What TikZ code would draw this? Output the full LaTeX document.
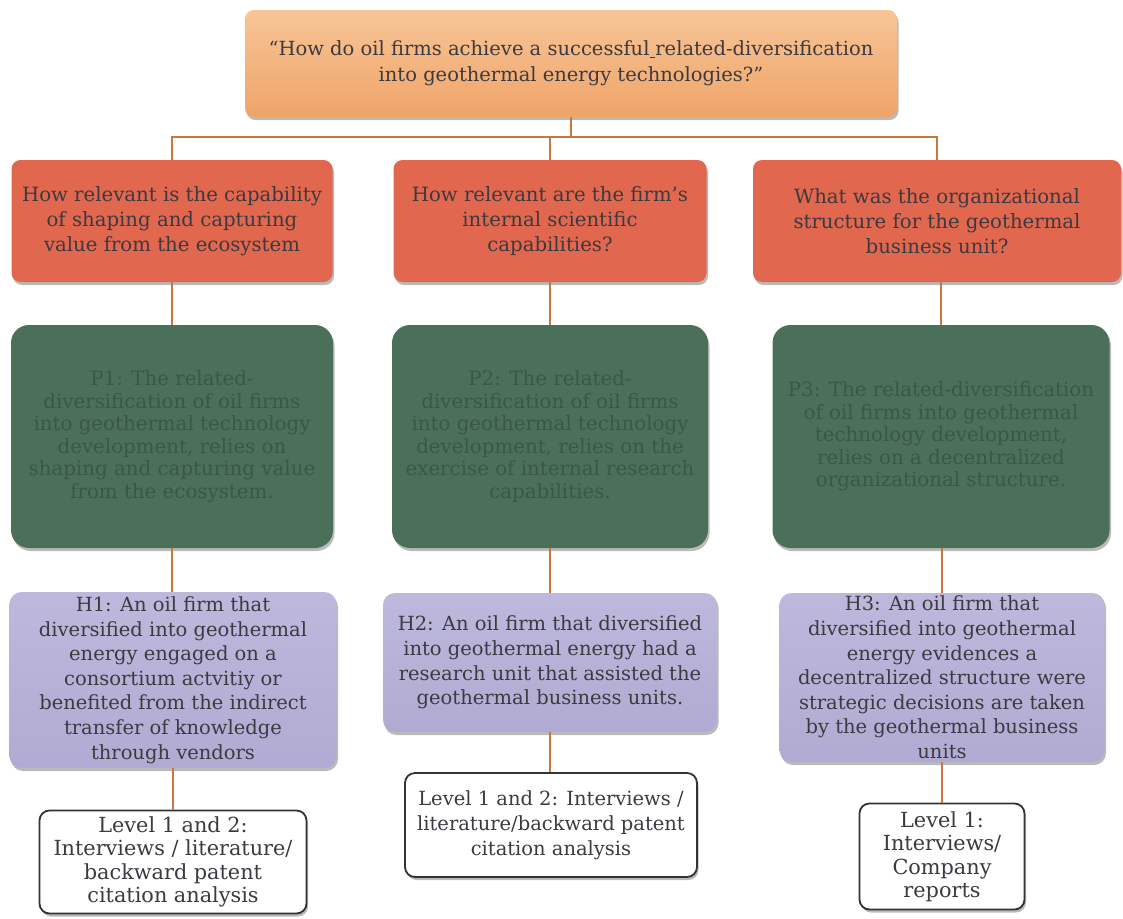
\documentclass[tikz,border=0pt]{standalone}
\usepackage{fontspec}
\setmainfont{DejaVu Serif}
\usetikzlibrary{shadows}

\definecolor{qtop}{HTML}{F8C597}
\definecolor{qbot}{HTML}{EFA468}
\definecolor{redfill}{HTML}{E1674E}
\definecolor{greenfill}{HTML}{4B7059}
\definecolor{greentext}{HTML}{3A5844}
\definecolor{purptop}{HTML}{BDB8DC}
\definecolor{purpbot}{HTML}{B1ABD3}
\definecolor{inktext}{HTML}{3C3A40}
\definecolor{connline}{HTML}{C9773F}

\tikzset{
  boxbase/.style={rectangle, align=center, inner sep=0pt, text=inktext,
    drop shadow={shadow xshift=1.5pt, shadow yshift=-3pt, opacity=0.45, fill=black!60}},
  questionbox/.style={boxbase, rounded corners=9pt, top color=qtop, bottom color=qbot,
    font=\fontsize{19.5}{25.5}\selectfont},
  subqbox/.style={boxbase, rounded corners=9pt, fill=redfill,
    font=\fontsize{19.7}{25}\selectfont},
  propbox/.style={boxbase, rounded corners=18pt, fill=greenfill, text=greentext,
    font=\fontsize{19.8}{22.5}\selectfont},
  hypbox/.style={boxbase, rounded corners=12pt, top color=purptop, bottom color=purpbot,
    font=\fontsize{19.5}{24.6}\selectfont},
  methbox/.style={boxbase, rounded corners=10pt, fill=white, draw=black!80, line width=1.8pt,
    font=\fontsize{20.8}{23.5}\selectfont},
  conn/.style={draw=connline, line width=1.4pt}
}

\begin{document}
\begin{tikzpicture}[x=1pt,y=-1pt]
\useasboundingbox (0,0) rectangle (1123,918);

% main research question
\node[questionbox, minimum width=652pt, minimum height=107pt] (top) at (571,63.5)
  {``How do oil firms achieve a successful\underline{\hspace{0.3em}}related-diversification\\
   into geothermal energy technologies?''};

% sub-questions
\node[subqbox, minimum width=321pt, minimum height=122pt] (q1) at (172,221)
  {How relevant is the capability\\of shaping and capturing\\value from the ecosystem};
\node[subqbox, minimum width=313pt, minimum height=122pt] (q2) at (550,221)
  {How relevant are the firm's\\internal scientific\\capabilities?};
\node[subqbox, minimum width=368pt, minimum height=122pt] (q3) at (937,221)
  {What was the organizational\\structure for the geothermal\\business unit?};

% propositions
\node[propbox, minimum width=322pt, minimum height=223pt] (p1) at (172,436.5)
  {P1: The related-\\diversification of oil firms\\into geothermal technology\\development, relies on\\shaping and capturing value\\from the ecosystem.};
\node[propbox, minimum width=316pt, minimum height=223pt] (p2) at (550,436.5)
  {P2: The related-\\diversification of oil firms\\into geothermal technology\\development, relies on the\\exercise of internal research\\capabilities.};
\node[propbox, minimum width=337pt, minimum height=223pt] (p3) at (941,436.5)
  {P3: The related-diversification\\of oil firms into geothermal\\technology development,\\relies on a decentralized\\organizational structure.};

% hypotheses
\node[hypbox, minimum width=327pt, minimum height=176pt] (h1) at (173,680)
  {H1: An oil firm that\\diversified into geothermal\\energy engaged on a\\consortium actvitiy or\\benefited from the indirect\\transfer of knowledge\\through vendors};
\node[hypbox, minimum width=334pt, minimum height=139pt] (h2) at (550,662.5)
  {H2: An oil firm that diversified\\into geothermal energy had a\\research unit that assisted the\\geothermal business units.};
\node[hypbox, minimum width=325pt, minimum height=169pt] (h3) at (942,677.5)
  {H3: An oil firm that\\diversified into geothermal\\energy evidences a\\decentralized structure were\\strategic decisions are taken\\by the geothermal business\\units};

% data sources
\node[methbox, minimum width=267pt, minimum height=103pt] (w1) at (173,862)
  {Level 1 and 2:\\Interviews / literature/\\backward patent\\citation analysis};
\node[methbox, minimum width=292pt, minimum height=104pt, font=\fontsize{19.5}{25}\selectfont] (w2) at (551,825)
  {Level 1 and 2: Interviews /\\literature/backward patent\\citation analysis};
\node[methbox, minimum width=165pt, minimum height=106pt] (w3) at (942,856.5)
  {Level 1:\\Interviews/\\Company\\reports};

% connectors
\coordinate (bar) at (0,137);
\draw[conn] (top.south) -- (top.south |- bar);
\draw[conn] (q1.north) -- (q1.north |- bar) -- (q3.north |- bar) -- (q3.north);
\draw[conn] (q2.north) -- (q2.north |- bar);

\draw[conn] (q1.south) -- (p1.north);
\draw[conn] (q2.south) -- (q2.south |- p2.north);
\draw[conn] (p3.north |- q3.south) -- (p3.north);

\draw[conn] (p1.south) -- (p1.south |- h1.north);
\draw[conn] (p2.south) -- (p2.south |- h2.north);
\draw[conn] (h3.north |- p3.south) -- (h3.north);

\draw[conn] (w1.north |- h1.south) -- (w1.north);
\draw[conn] (h2.south) -- (h2.south |- w2.north);
\draw[conn] (h3.south) -- (w3.north);
\end{tikzpicture}
\end{document}
